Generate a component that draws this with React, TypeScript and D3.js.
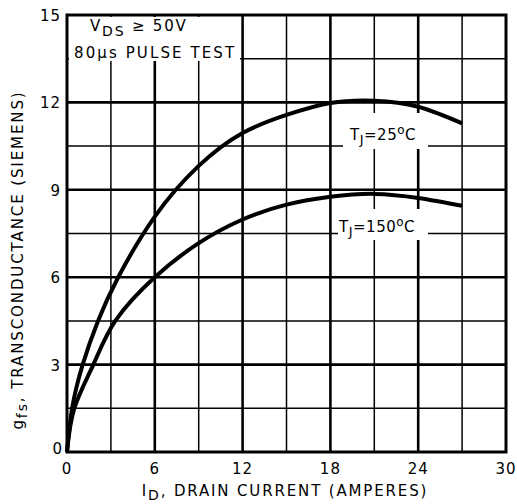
import React from "react";
import * as d3 from "d3";

const xTicks = [0, 6, 12, 18, 24, 30];
const yTicks = [0, 3, 6, 9, 12, 15];
const xMinor = [3, 9, 15, 21, 27];
const yMinor = [1.5, 4.5, 7.5, 10.5, 13.5];

const curve25X = [0, 0.35, 1.07, 2.12, 3.5, 6, 9, 12, 15, 18, 21, 24, 27];
const curve25Y = [0, 1.5, 3, 4.5, 6, 8.08, 9.82, 10.95, 11.57, 11.98, 12.06, 11.85, 11.28];
const curve150X = [0, 0.5, 1.8, 3.3, 6, 9, 12, 15, 18, 21, 24, 27];
const curve150Y = [0, 1.5, 3, 4.5, 6, 7.17, 7.98, 8.49, 8.76, 8.86, 8.72, 8.45];

const W = 517, H = 504;
const L = 67, R = 506, T = 15, B = 452;

export default function App() {
  const x = d3.scaleLinear().domain([0, 30]).range([L, R]);
  const y = d3.scaleLinear().domain([0, 15]).range([B, T]);
  const line = d3
    .line<[number, number]>()
    .x((d) => x(d[0]))
    .y((d) => y(d[1]))
    .curve(d3.curveNatural);
  const p25 = line(curve25X.map((v, i) => [v, curve25Y[i]] as [number, number])) || "";
  const p150 = line(curve150X.map((v, i) => [v, curve150Y[i]] as [number, number])) || "";
  const font = "'DejaVu Sans', sans-serif";
  return (
    <svg width={W} height={H} style={{ position: "absolute", left: 0, top: 0, background: "#fff" }} fontFamily={font}>
      <rect x={0} y={0} width={W} height={H} fill="#fff" />
      {xMinor.map((v) => (
        <line key={"xm" + v} x1={x(v)} x2={x(v)} y1={T} y2={B} stroke="#000" strokeWidth={1.5} />
      ))}
      {yMinor.map((v) => (
        <line key={"ym" + v} x1={L} x2={R} y1={y(v)} y2={y(v)} stroke="#000" strokeWidth={1.5} />
      ))}
      {xTicks.slice(1, -1).map((v) => (
        <line key={"xM" + v} x1={x(v)} x2={x(v)} y1={T} y2={B} stroke="#000" strokeWidth={2.6} />
      ))}
      {yTicks.slice(1, -1).map((v) => (
        <line key={"yM" + v} x1={L} x2={R} y1={y(v)} y2={y(v)} stroke="#000" strokeWidth={2.6} />
      ))}
      {/* label backgrounds */}
      <rect x={69} y={17} width={171} height={44} fill="#fff" />
      <rect x={343} y={113} width={85} height={36} fill="#fff" />
      <rect x={338} y={209} width={90} height={31} fill="#fff" />
      <rect x={L} y={T} width={R - L} height={B - T} fill="none" stroke="#000" strokeWidth={3} />
      <path d={p25} fill="none" stroke="#000" strokeWidth={4} />
      <path d={p150} fill="none" stroke="#000" strokeWidth={4} />
      {/* annotations */}
      <text x={90} y={31} fontSize={15} letterSpacing={1.8}>
        V<tspan fontSize={14} dy={5}>DS</tspan>
        <tspan dy={-5}> ≥ 50V</tspan>
      </text>
      <text x={74} y={58} fontSize={15} letterSpacing={2.1}>
        80µs PULSE TEST
      </text>
      <text x={350} y={140} fontSize={15} letterSpacing={0.5}>
        T<tspan fontSize={13} dy={4}>J</tspan>
        <tspan dy={-4}>=25</tspan>
        <tspan fontSize={12} dy={-6}>o</tspan>
        <tspan dy={6}>C</tspan>
      </text>
      <text x={339} y={232} fontSize={15} letterSpacing={0.5}>
        T<tspan fontSize={13} dy={4}>J</tspan>
        <tspan dy={-4}>=150</tspan>
        <tspan fontSize={12} dy={-6}>o</tspan>
        <tspan dy={6}>C</tspan>
      </text>
      {/* ticks */}
      {xTicks.map((v) => (
        <text key={"xt" + v} x={x(v)} y={474} fontSize={15} textAnchor="middle" letterSpacing={1}>
          {v}
        </text>
      ))}
      {yTicks.map((v) => (
        <text key={"yt" + v} x={v === 0 ? 63 : 61} y={y(v) + (v === 0 ? 2 : 6)} fontSize={15} textAnchor="end" letterSpacing={1}>
          {v}
        </text>
      ))}
      <text x={285} y={496} fontSize={15} textAnchor="middle" letterSpacing={1.85}>
        I<tspan fontSize={14} dy={4}>D</tspan>
        <tspan dy={-4}>, DRAIN CURRENT (AMPERES)</tspan>
      </text>
      <text transform={`translate(23,260) rotate(-90)`} fontSize={15} textAnchor="middle" letterSpacing={1.9}>
        g<tspan fontSize={14} dy={4}>fs</tspan>
        <tspan dy={-4}>, TRANSCONDUCTANCE (SIEMENS)</tspan>
      </text>
    </svg>
  );
}
